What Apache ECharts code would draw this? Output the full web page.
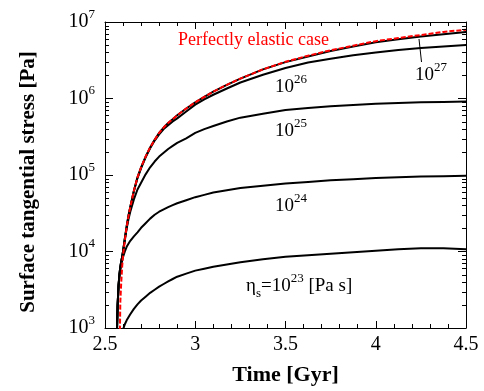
<!DOCTYPE html>
<html>
<head>
<meta charset="utf-8">
<script src="https://cdn.jsdelivr.net/npm/echarts@6/dist/echarts.min.js"></script>
<style>
html,body{margin:0;padding:0;background:#fff;}
#chart{width:484px;height:391px;}
</style>
</head>
<body>
<div id="chart"></div>
<script>
// Time [Gyr]
const time = [2.565, 2.57, 2.575, 2.58, 2.585, 2.59, 2.595, 2.6, 2.61, 2.62, 2.63, 2.64, 2.66, 2.68, 2.7, 2.725, 2.75, 2.775, 2.8, 2.825, 2.85, 2.875, 2.9, 2.95, 3.0, 3.05, 3.1, 3.175, 3.25, 3.375, 3.5, 3.625, 3.75, 3.875, 4.0, 4.125, 4.25, 4.375, 4.5];
// Surface tangential stress [Pa]
const elastic = [null, null, null, 398, 2240, 3980, 6310, 8910, 14100, 20900, 28800, 38000, 61700, 93300, 126000, 174000, 229000, 288000, 355000, 417000, 479000, 537000, 603000, 741000, 891000, 1050000, 1230000, 1510000, 1820000, 2400000, 3020000, 3630000, 4270000, 4900000, 5620000, 6170000, 6760000, 7410000, 7940000];
const eta27 = [708, 2000, 3550, 5010, 6310, 7410, 8510, 10000, 14100, 20900, 28800, 38000, 61700, 93300, 126000, 174000, 229000, 288000, 355000, 417000, 479000, 537000, 603000, 741000, 891000, 1050000, 1230000, 1510000, 1820000, 2400000, 2990000, 3550000, 4170000, 4790000, 5430000, 5960000, 6460000, 6920000, 7410000];
const eta26 = [708, 2000, 3550, 5010, 6310, 7410, 8510, 10000, 14800, 21400, 29500, 38000, 61700, 91200, 123000, 170000, 224000, 282000, 339000, 398000, 447000, 501000, 550000, 676000, 832000, 977000, 1120000, 1350000, 1620000, 2040000, 2510000, 2950000, 3310000, 3670000, 3980000, 4320000, 4570000, 4790000, 5010000];
const eta25 = [708, 2000, 3550, 5010, 6310, 7410, 8510, 10000, 14800, 20000, 26300, 33100, 47900, 64600, 79400, 102000, 126000, 150000, 174000, 195000, 219000, 240000, 263000, 302000, 355000, 398000, 437000, 501000, 562000, 631000, 708000, 750000, 794000, 822000, 851000, 871000, 891000, 902000, 912000];
const eta24 = [708, 2000, 3550, 4790, 5750, 6760, 7590, 8510, 10000, 11500, 12600, 13800, 15800, 17800, 20400, 23400, 26900, 30200, 33100, 35500, 38000, 40300, 42700, 46800, 51300, 55000, 58900, 63100, 67600, 72400, 77600, 81300, 85100, 88100, 91200, 93300, 95500, 96600, 97700];
const eta23 = [null, null, null, null, null, null, 794, 955, 1120, 1260, 1380, 1510, 1780, 2040, 2290, 2570, 2880, 3160, 3470, 3760, 4070, 4370, 4680, 5130, 5620, 5960, 6310, 6760, 7240, 7940, 8510, 8910, 9330, 9770, 10200, 10700, 11000, 11000, 10700];
const xTicks = ['2.5', '3', '3.5', '4', '4.5'];

const X_MIN = 2.5, X_MAX = 4.5, Y_MIN = 1e3, Y_MAX = 1e7;
const pairs = arr => time.map((t, i) => [t, arr[i]]);

const serif = 'Liberation Serif';
const chart = echarts.init(document.getElementById('chart'), null, {renderer: 'canvas'});

const tickStyle = {color: '#000', width: 1};
const xBase = {
  type: 'value', min: X_MIN, max: X_MAX, interval: 0.5,
  axisLine: {show: true, onZero: false, lineStyle: {color: '#000', width: 1}},
  axisTick: {show: true, inside: true, length: 7, lineStyle: tickStyle},
  minorTick: {show: true, splitNumber: 5, length: 4, lineStyle: tickStyle},
  splitLine: {show: false}
};
const yBase = {
  type: 'log', logBase: 10, min: Y_MIN, max: Y_MAX,
  axisLine: {show: true, onZero: false, lineStyle: {color: '#000', width: 1}},
  axisTick: {show: true, inside: true, length: 8, lineStyle: tickStyle},
  splitLine: {show: false}
};

const blackLine = (name, data) => ({
  name, type: 'line', data: pairs(data), showSymbol: false, symbol: 'none',
  smooth: false, clip: true, connectNulls: false,
  lineStyle: {color: '#000', width: 2, join: 'round', cap: 'round'}, z: 2
});

chart.setOption({
  animation: false,
  backgroundColor: '#fff',
  grid: {left: 105, right: 18, top: 22, bottom: 58, containLabel: false},
  xAxis: [
    Object.assign({}, xBase, {
      position: 'bottom',
      axisLabel: {show: true, margin: 7, color: '#000', fontFamily: serif, fontSize: 20,
        formatter: v => xTicks[Math.round((v - X_MIN) / 0.5)]},
      name: 'Time [Gyr]', nameLocation: 'middle', nameGap: 36,
      nameTextStyle: {color: '#000', fontFamily: serif, fontSize: 22, fontWeight: 'bold'}
    }),
    Object.assign({}, xBase, {position: 'top', axisLabel: {show: false}})
  ],
  yAxis: [
    Object.assign({}, yBase, {
      position: 'left',
      axisLabel: {show: true, margin: 10, color: '#000',
        formatter: v => '{b|10}{s|' + Math.round(Math.log10(v)) + '}',
        rich: {
          b: {fontFamily: serif, fontSize: 20, color: '#000'},
          s: {fontFamily: serif, fontSize: 13, color: '#000', padding: [0, 0, 15, 0]}
        }},
      name: 'Surface tangential stress [Pa]', nameLocation: 'middle', nameGap: 66,
      nameTextStyle: {color: '#000', fontFamily: serif, fontSize: 21, fontWeight: 'bold', padding: [0, 14, 0, 0]}
    }),
    Object.assign({}, yBase, {position: 'right', axisLabel: {show: false}})
  ],
  series: [
    blackLine('1e23', eta23),
    blackLine('1e24', eta24),
    blackLine('1e25', eta25),
    blackLine('1e26', eta26),
    blackLine('1e27', eta27),
    {
      name: 'Perfectly elastic case', type: 'line', data: pairs(elastic), showSymbol: false, symbol: 'none',
      smooth: false, clip: true,
      lineStyle: {color: '#ff0000', width: 2, type: [5, 2], join: 'round'}, z: 3
    }
  ]
});

// Minor log ticks (2..9 per decade) on both vertical sides, placed through the axis scale
const toPx = (x, y) => chart.convertToPixel({xAxisIndex: 0, yAxisIndex: 0}, [x, y]);
const minorTicks = [];
for (let d = Y_MIN; d < Y_MAX * 0.999; d *= 10) {
  for (let k = 2; k <= 9; k++) {
    const l = toPx(X_MIN, d * k), r = toPx(X_MAX, d * k);
    if (!l || !r || !isFinite(l[0]) || !isFinite(l[1])) continue;
    const yy = Math.round(l[1]) + 0.5;
    minorTicks.push({type: 'line', z: 20, shape: {x1: l[0], y1: yy, x2: l[0] + 4, y2: yy}, style: {stroke: '#000', lineWidth: 1}});
    minorTicks.push({type: 'line', z: 20, shape: {x1: r[0], y1: yy, x2: r[0] - 4, y2: yy}, style: {stroke: '#000', lineWidth: 1}});
  }
}

const mkSup = () => ({font: '13px "Liberation Serif"', fill: '#000', padding: [0, 0, 14, 0]});
const mkBase = () => ({font: '19px "Liberation Serif"', fill: '#000'});
const powLabel = (x, y, e) => ({type: 'text', x: x, y: y, z: 30,
  style: {text: '{b|10}{s|' + e + '}', verticalAlign: 'middle', textVerticalAlign: 'middle', rich: {b: mkBase(), s: mkSup()}}});
const labels = [
  {type: 'text', x: 178, y: 40, z: 30, style: {text: 'Perfectly elastic case', fill: '#ff0000',
    font: '18px "Liberation Serif"', verticalAlign: 'middle', textVerticalAlign: 'middle'}},
  {type: 'line', z: 30, shape: {x1: 419, y1: 39, x2: 421.5, y2: 62}, style: {stroke: '#000', lineWidth: 1}},
  powLabel(415, 75, 27),
  powLabel(275, 87, 26),
  powLabel(275, 131, 25),
  powLabel(275, 206, 24),
  {type: 'text', x: 246, y: 286, z: 30, style: {text: '{b|η}{u|s}{b|=10}{s|23}{b| [Pa s]}', verticalAlign: 'middle', textVerticalAlign: 'middle',
    rich: {b: mkBase(), s: mkSup(), u: {font: '13px "Liberation Serif"', fill: '#000', padding: [16, 0, 0, 0]}}}}
];

chart.setOption({graphic: {elements: labels.concat(minorTicks)}});
</script>
</body>
</html>
